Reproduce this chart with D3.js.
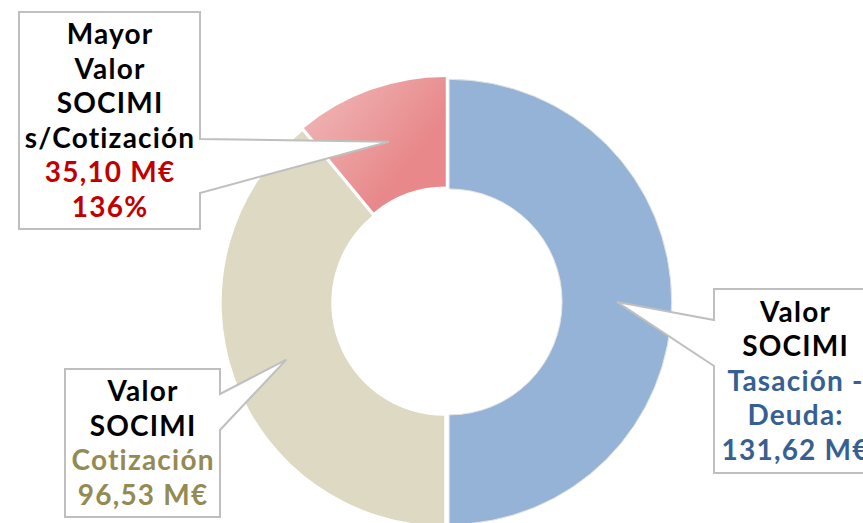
<!DOCTYPE html>
<html>
<head>
<meta charset="utf-8">
<script src="https://cdn.jsdelivr.net/npm/d3@7"></script>
<style>
  html, body { margin: 0; padding: 0; background: #fff; }
  svg { display: block; font-family: Lato, "Open Sans", sans-serif; }
</style>
</head>
<body>
<div id="chart"></div>
<script>
// data ---------------------------------------------------------------
const categories = ['Tasación - Deuda', 'Cotización', 'Mayor valor'];
// share of the ring for each slice (%) as drawn
const shares = [50, 39, 11];
const sliceColors = ['#95b3d7', '#ddd9c3', 'url(#pinkGrad)'];

// label lines: [black lines], [coloured lines]
const labelTitles = [
  ['Valor', 'SOCIMI'],
  ['Valor', 'SOCIMI'],
  ['Mayor', 'Valor', 'SOCIMI', 's/Cotización']
];
const labelValues = [
  ['Tasación -', 'Deuda:', '131,62 M€'],
  ['Cotización', '96,53 M€'],
  ['35,10 M€', '136%']
];
const labelColors = ['#376092', '#948a54', '#c00000'];

// callout boxes
const boxes = [
  { x: 714, y: 289, w: 162, h: 184, p0: 320, p1: 366, side: 'left' },
  { x: 65, y: 369, w: 155, h: 148, p0: 394, p1: 430, side: 'right' },
  { x: 19, y: 12, w: 181, h: 217, p0: 139, p1: 193, side: 'right' }
];

const width = 863;
const height = 523;
const cx = 446.6, cy = 301.9;
const outerR = 222.6, innerR = 113;
const explode = 2.5;

const svg = d3.select('#chart')
  .append('svg')
  .attr('width', width)
  .attr('height', height);

// pink slice gradient, in ring coordinates
const defs = svg.append('defs');
const grad = defs.append('linearGradient')
  .attr('id', 'pinkGrad')
  .attr('gradientUnits', 'userSpaceOnUse')
  .attr('x1', -150).attr('y1', -200)
  .attr('x2', -50).attr('y2', -120);
grad.append('stop').attr('offset', '0%').attr('stop-color', '#f0b9b9');
grad.append('stop').attr('offset', '100%').attr('stop-color', '#e8888a');

const pie = d3.pie().sort(null).value(d => d);
const arcs = pie(shares);
const arc = d3.arc().innerRadius(innerR).outerRadius(outerR);

const ring = svg.append('g').attr('transform', `translate(${cx},${cy})`);

function offsetOf(d) {
  const mid = (d.startAngle + d.endAngle) / 2;
  return [Math.sin(mid) * explode, -Math.cos(mid) * explode];
}

ring.selectAll('path')
  .data(arcs)
  .join('path')
  .attr('d', arc)
  .attr('transform', d => `translate(${offsetOf(d)})`)
  .attr('fill', (d, i) => sliceColors[i])
  .attr('stroke', (d, i) => i === 0 ? '#e4e4e4' : 'none')
  .attr('stroke-width', 1);

// callouts ------------------------------------------------------------
arcs.forEach((d, i) => {
  const b = boxes[i];
  const [ox, oy] = offsetOf(d);
  const [tx, ty] = arc.centroid(d);
  const tip = [cx + tx + ox, cy + ty + oy];

  let pts;
  if (b.side === 'right') {
    const r = b.x + b.w;
    pts = [[b.x, b.y], [r, b.y], [r, b.p0], tip, [r, b.p1], [r, b.y + b.h], [b.x, b.y + b.h]];
  } else {
    pts = [[b.x, b.y], [b.x + b.w, b.y], [b.x + b.w, b.y + b.h], [b.x, b.y + b.h], [b.x, b.p1], tip, [b.x, b.p0]];
  }

  svg.append('path')
    .attr('d', d3.line()(pts) + 'Z')
    .attr('fill', '#fff')
    .attr('stroke', '#bfbfbf')
    .attr('stroke-width', 2)
    .attr('stroke-linejoin', 'miter');

  const lines = labelTitles[i].map(t => ({ t, c: '#000' }))
    .concat(labelValues[i].map(t => ({ t, c: labelColors[i] })));
  const lineH = 34.5;
  const firstBase = b.y + b.h / 2 - (lines.length * lineH) / 2 + 27;

  svg.append('text')
    .attr('text-anchor', 'middle')
    .attr('font-size', 28)
    .attr('font-weight', 'bold')
    .attr('letter-spacing', 1.2)
    .selectAll('tspan')
    .data(lines)
    .join('tspan')
    .attr('x', b.x + b.w / 2 + 0.6)
    .attr('y', (l, j) => firstBase + j * lineH)
    .attr('fill', l => l.c)
    .text(l => l.t);
});
</script>
</body>
</html>
